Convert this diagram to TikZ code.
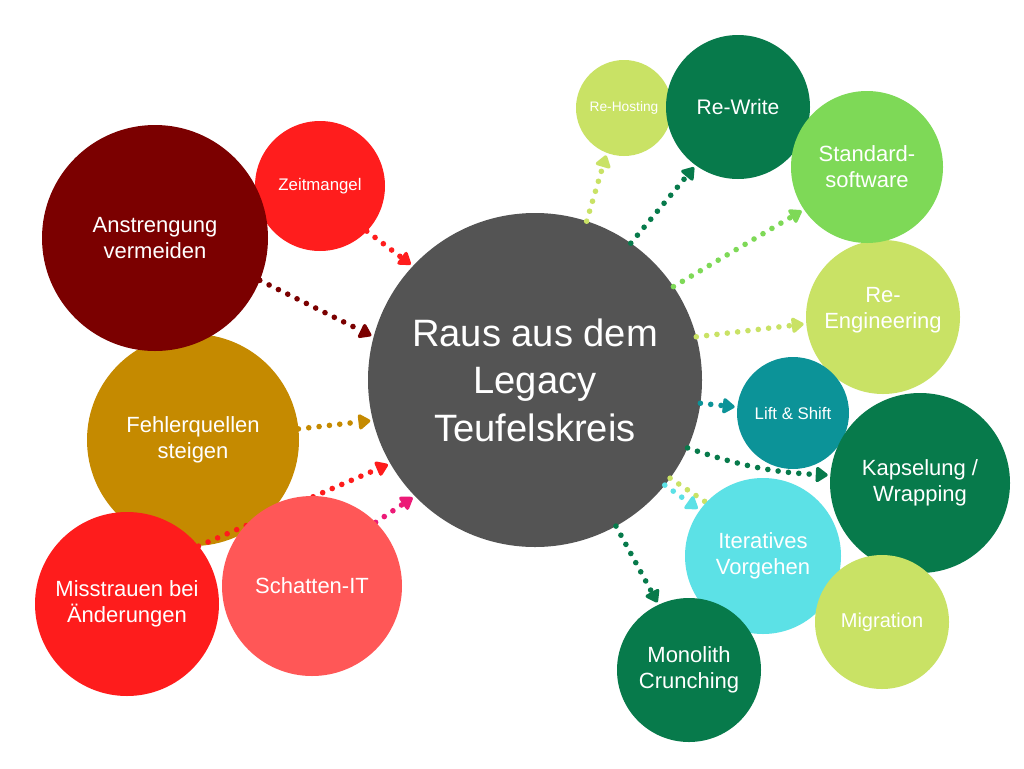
\documentclass[tikz,border=0pt]{standalone}
\usepackage{fontspec}
\setmainfont{Liberation Sans}
\usetikzlibrary{arrows.meta}
\pgfdeclarelayer{back}
\pgfdeclarelayer{mid}
\pgfsetlayers{back,mid,main}
\definecolor{legacygray}{HTML}{545454}
\definecolor{darkred}{HTML}{7B0000}
\definecolor{zeitred}{HTML}{FF1D1D}
\definecolor{goldbrown}{HTML}{C58A00}
\definecolor{brightred}{HTML}{FE1C1C}
\definecolor{salmon}{HTML}{FF5757}
\definecolor{pinkarrow}{HTML}{EC1A77}
\definecolor{limegreen}{HTML}{C9E265}
\definecolor{leafgreen}{HTML}{7ED957}
\definecolor{deepgreen}{HTML}{077A4B}
\definecolor{tealblue}{HTML}{0C9398}
\definecolor{skycyan}{HTML}{5CE1E6}
\tikzset{
  bubble/.style={circle,fill=#1,text=white,align=center,inner sep=0pt,outer sep=0pt},
  rad/.style={minimum size=#1*1.5pt},
  link/.style={draw=#1,line width=4.2pt,line cap=round,dash pattern=on 0pt off 7.8pt,
    -{Triangle[length=10pt,width=13pt,round]},shorten >=2pt},
  hugetxt/.style={font=\fontsize{28.6}{35.6}\selectfont},
  midtxt/.style={font=\fontsize{16.5}{19.5}\selectfont},
  smalltxt/.style={font=\fontsize{12.6}{15}\selectfont},
  tinytxt/.style={font=\fontsize{10.3}{12}\selectfont}
}
\begin{document}
\begin{tikzpicture}[x=0.75pt,y=-0.75pt]
\useasboundingbox (0,0) rectangle (1024,768);
\begin{pgfonlayer}{back}
  \fill[white] (0,0) rectangle (1024,768);
  \node[bubble=legacygray,rad=167,hugetxt] (legacy) at (535,380) {Raus aus dem\\Legacy\\Teufelskreis};
  \node[bubble=goldbrown,rad=106,midtxt] (fehler) at (193,440) {Fehlerquellen\\steigen};
\end{pgfonlayer}
% left side
\node[bubble=zeitred,rad=65,smalltxt] (zeit) at (320,186) {Zeitmangel};
\node[bubble=darkred,rad=113,midtxt] (anst) at (155,238) {Anstrengung\\vermeiden};
\node[bubble=brightred,rad=92,midtxt] (miss) at (127,604) {Misstrauen bei\\Änderungen};
\node[bubble=salmon,rad=90,midtxt] (schatten) at (312,586) {Schatten-IT};
% right side
\node[bubble=limegreen,rad=48,tinytxt] (rehost) at (624,108) {Re-Hosting};
\node[bubble=deepgreen,rad=72,font=\fontsize{15.8}{19}\selectfont] (rewrite) at (738,107) {Re-Write};
\node[bubble=limegreen,rad=77,midtxt,text depth=14pt] (reeng) at (883,317) {Re-\\Engineering};
\node[bubble=leafgreen,rad=76,midtxt] (standard) at (867,167) {Standard-\\software};
\node[bubble=tealblue,rad=56,smalltxt] (lift) at (793,413) {Lift \& Shift};
\node[bubble=deepgreen,rad=90,midtxt] (kaps) at (920,483) {Kapselung /\\Wrapping};
\node[bubble=skycyan,rad=78,midtxt] (iter) at (763,556) {Iteratives\\Vorgehen};
\node[bubble=limegreen,rad=67,font=\fontsize{15}{18}\selectfont] (migr) at (882,622) {Migration};
\node[bubble=deepgreen,rad=72,midtxt] (mono) at (689,670) {Monolith\\Crunching};
\begin{pgfonlayer}{mid}
  \draw[link=zeitred] (zeit.-44) -- (legacy.137);
  \draw[link=darkred] (anst.-22) -- (legacy.165);
  \draw[link=goldbrown] (fehler.6) -- (legacy.194);
  \draw[link=brightred] (miss.39) -- (legacy.210);
  \draw[link=pinkarrow] (schatten.45) -- (legacy.224);
  \draw[link=limegreen] (legacy.72) -- (rehost.249);
  \draw[link=deepgreen] (legacy.55) -- (rewrite.234);
  \draw[link=leafgreen] (legacy.34) -- (standard.214);
  \draw[link=limegreen] (legacy.15) -- (reeng.185);
  \draw[link=tealblue] (legacy.-8) -- (lift.174);
  \draw[link=deepgreen] (legacy.-24) to[bend right=8] (kaps.175);
  \draw[link=limegreen] (legacy.-36) -- (migr.145);
  \draw[link=skycyan] (legacy.-39) -- (iter.144);
  \draw[link=deepgreen] (legacy.-61) -- (mono.115);
\end{pgfonlayer}
\end{tikzpicture}
\end{document}
